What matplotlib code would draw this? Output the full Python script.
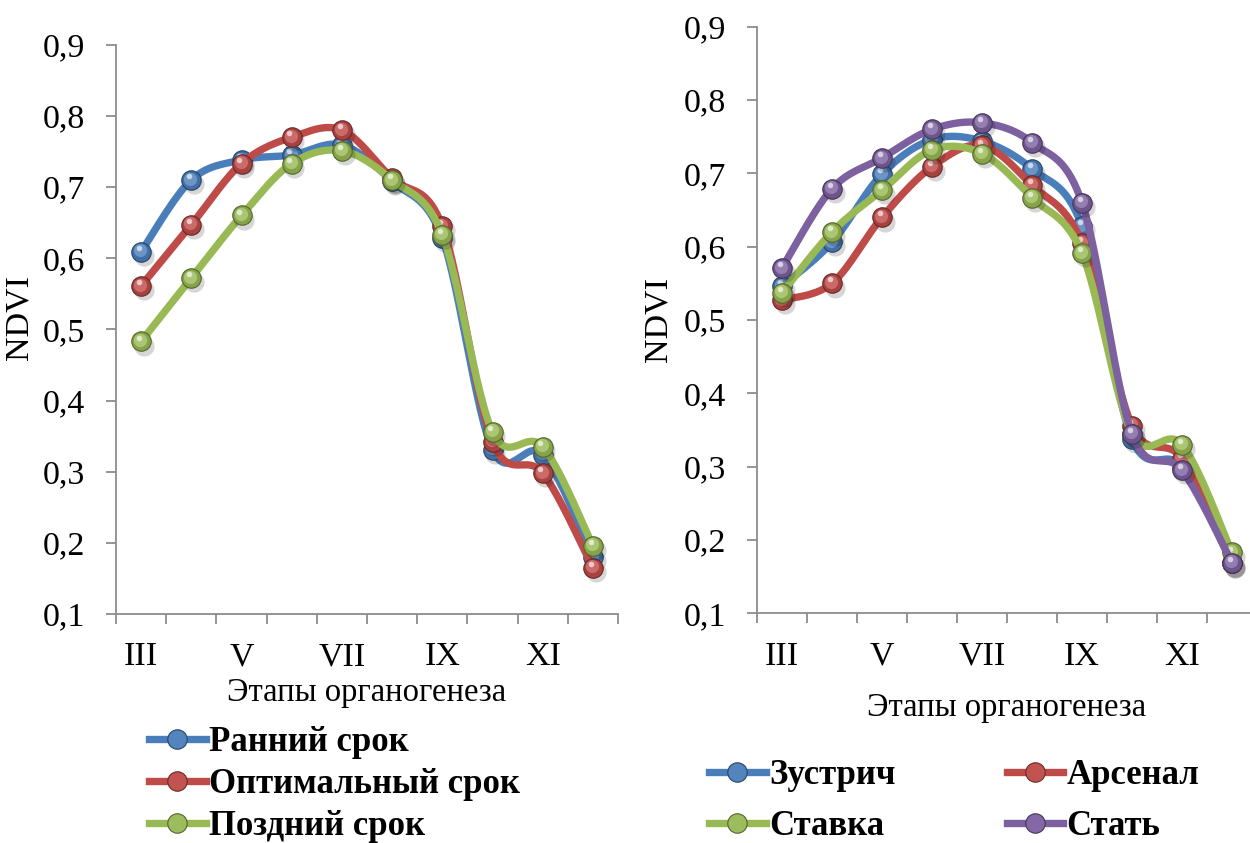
import numpy as np
import matplotlib
matplotlib.use("Agg")
import matplotlib.pyplot as plt
from matplotlib.ticker import FixedLocator, FuncFormatter, NullFormatter
from matplotlib.transforms import offset_copy

plt.rcParams['font.family'] = ['Liberation Serif', 'DejaVu Serif']

stages = ["III", "IV", "V", "VI", "VII", "VIII", "IX", "X", "XI", "XII"]
shown_labels = ["III", "V", "VII", "IX", "XI"]

# Left panel: sowing dates
early = [0.609, 0.710, 0.738, 0.745, 0.759, 0.708, 0.628, 0.331, 0.324, 0.180]
optimal = [0.561, 0.647, 0.733, 0.770, 0.780, 0.712, 0.645, 0.342, 0.298, 0.165]
late = [0.483, 0.572, 0.660, 0.733, 0.751, 0.710, 0.633, 0.356, 0.335, 0.196]

# Right panel: varieties
zustrich = [0.546, 0.606, 0.699, 0.746, 0.744, 0.706, 0.628, 0.338, 0.300, 0.168]
arsenal = [0.527, 0.550, 0.640, 0.709, 0.738, 0.684, 0.605, 0.356, 0.311, 0.168]
stavka = [0.537, 0.620, 0.677, 0.732, 0.727, 0.667, 0.591, 0.345, 0.330, 0.183]
stat = [0.571, 0.679, 0.721, 0.760, 0.769, 0.742, 0.660, 0.345, 0.295, 0.169]

left_names = ["Ранний срок", "Оптимальный срок", "Поздний срок"]
right_names = ["Зустрич", "Арсенал", "Ставка", "Стать"]

BLUE = "#4A7EBB"
RED = "#BE4B48"
GREEN = "#98B954"
PURPLE = "#7D60A0"


def lighten(c, f):
    rgb = np.array(matplotlib.colors.to_rgb(c))
    return tuple(rgb + (1 - rgb) * f)


def darken(c, f):
    rgb = np.array(matplotlib.colors.to_rgb(c))
    return tuple(rgb * (1 - f))


def smooth(xs, ys, n=30):
    P = np.column_stack([xs, ys]).astype(float)
    m = len(P)
    out = []
    for i in range(m - 1):
        p0 = P[max(i - 1, 0)]
        p1 = P[i]
        p2 = P[i + 1]
        p3 = P[min(i + 2, m - 1)]
        c1 = p1 + (p2 - p0) / 6.0
        c2 = p2 - (p3 - p1) / 6.0
        t = np.linspace(0, 1, n)[:, None]
        seg = ((1 - t) ** 3) * p1 + 3 * ((1 - t) ** 2) * t * c1 + 3 * (1 - t) * t ** 2 * c2 + t ** 3 * p2
        out.append(seg if i == 0 else seg[1:])
    out = np.vstack(out)
    return out[:, 0], out[:, 1]


def draw_series(ax, fig, vals, color, label, z):
    x = np.arange(len(vals))
    sx, sy = smooth(x, vals)
    ax.plot(sx, sy, color=color, lw=5.3, solid_capstyle='round', zorder=z, clip_on=False)
    shadow_tr = offset_copy(ax.transData, fig=fig, x=2.0, y=-3.0, units='points')
    ax.plot(x, vals, 'o', ms=14.5, color=(0, 0, 0, 0.16), mec='none', transform=shadow_tr,
            zorder=z + 0.1, clip_on=False)
    ax.plot(x, vals, 'o', ms=14, color=darken(color, 0.12), mec=darken(color, 0.45), mew=0.8,
            zorder=z + 0.2, clip_on=False)
    ax.plot(x, vals, 'o', ms=9.5, color=lighten(color, 0.18), mec='none',
            transform=offset_copy(ax.transData, fig=fig, x=-0.6, y=1.0, units='points'),
            zorder=z + 0.3, clip_on=False)
    hl_tr = offset_copy(ax.transData, fig=fig, x=-1.6, y=2.8, units='points')
    ax.plot(x, vals, 'o', ms=4, color=lighten(color, 0.7), mec='none', transform=hl_tr,
            zorder=z + 0.4, clip_on=False)
    # legend proxy
    h, = ax.plot([], [], color=color, lw=5.3, marker='o', ms=14, mfc=lighten(color, 0.05),
                 mec=darken(color, 0.45), mew=0.8, label=label)
    return h


def style_axes(ax):
    n = len(stages)
    ax.set_xlim(-0.5, n - 0.5)
    ax.set_ylim(0.1, 0.9)
    ax.set_yticks(np.round(np.arange(0.1, 0.91, 0.1), 1))
    ax.yaxis.set_major_formatter(FuncFormatter(lambda v, p: f"{v:.1f}".replace('.', ',')))
    ax.xaxis.set_major_locator(FixedLocator(np.arange(-0.5, n, 1.0)))
    ax.xaxis.set_major_formatter(NullFormatter())
    pos = [stages.index(s) for s in shown_labels]
    ax.set_xticks(pos, minor=True)
    ax.set_xticklabels(shown_labels, minor=True)
    for s in ['top', 'right']:
        ax.spines[s].set_visible(False)
    for s in ['left', 'bottom']:
        ax.spines[s].set_color('#8C8C8C')
        ax.spines[s].set_linewidth(1.3)
    ax.tick_params(axis='y', which='major', direction='out', length=7, width=1.3,
                   color='#8C8C8C', labelsize=24.5, pad=15)
    ax.tick_params(axis='x', which='major', direction='out', length=7, width=1.3,
                   color='#8C8C8C')
    ax.tick_params(axis='x', which='minor', length=0, labelsize=24.5, pad=20)
    ax.set_ylabel("NDVI", fontsize=24.5)
    ax.set_xlabel("Этапы органогенеза", fontsize=23.5)
    ax.patch.set_alpha(0)


fig = plt.figure(figsize=(12.5, 8.43), dpi=100)
W, H = 1250, 843
axL = fig.add_axes([116 / W, 1 - 614 / H, 502 / W, (614 - 44.7) / H])
axR = fig.add_axes([757 / W, 1 - 613.3 / H, 500 / W, (613.3 - 26.7) / H])

for ax in (axL, axR):
    style_axes(ax)

axL.yaxis.set_label_coords(-0.162, 0.52)
axL.xaxis.labelpad = 4
axR.yaxis.set_label_coords(-0.168, 0.5)
axR.xaxis.labelpad = 15

hl = []
for vals, col, name, z in zip([early, optimal, late], [BLUE, RED, GREEN], left_names, [3, 4, 5]):
    hl.append(draw_series(axL, fig, vals, col, name, z))

hr = []
for vals, col, name, z in zip([zustrich, arsenal, stavka, stat], [BLUE, RED, GREEN, PURPLE], right_names, [3, 4, 5, 6]):
    hr.append(draw_series(axR, fig, vals, col, name, z))

legL = fig.legend(handles=hl, loc='upper left', bbox_to_anchor=(149 / W, 1 - 726 / H),
                  frameon=False, prop={'weight': 'bold', 'size': 25}, handlelength=1.63,
                  handletextpad=0.1, labelspacing=0.26, borderaxespad=0, borderpad=0)

legR = fig.legend(handles=[hr[0], hr[2], hr[1], hr[3]], loc='upper left', ncol=2,
                  bbox_to_anchor=(709 / W, 1 - 759 / H), frameon=False,
                  prop={'weight': 'bold', 'size': 25}, handlelength=1.63,
                  handletextpad=0.1, labelspacing=0.53, columnspacing=3.2,
                  borderaxespad=0, borderpad=0)

fig.savefig("out.png", dpi=100)
